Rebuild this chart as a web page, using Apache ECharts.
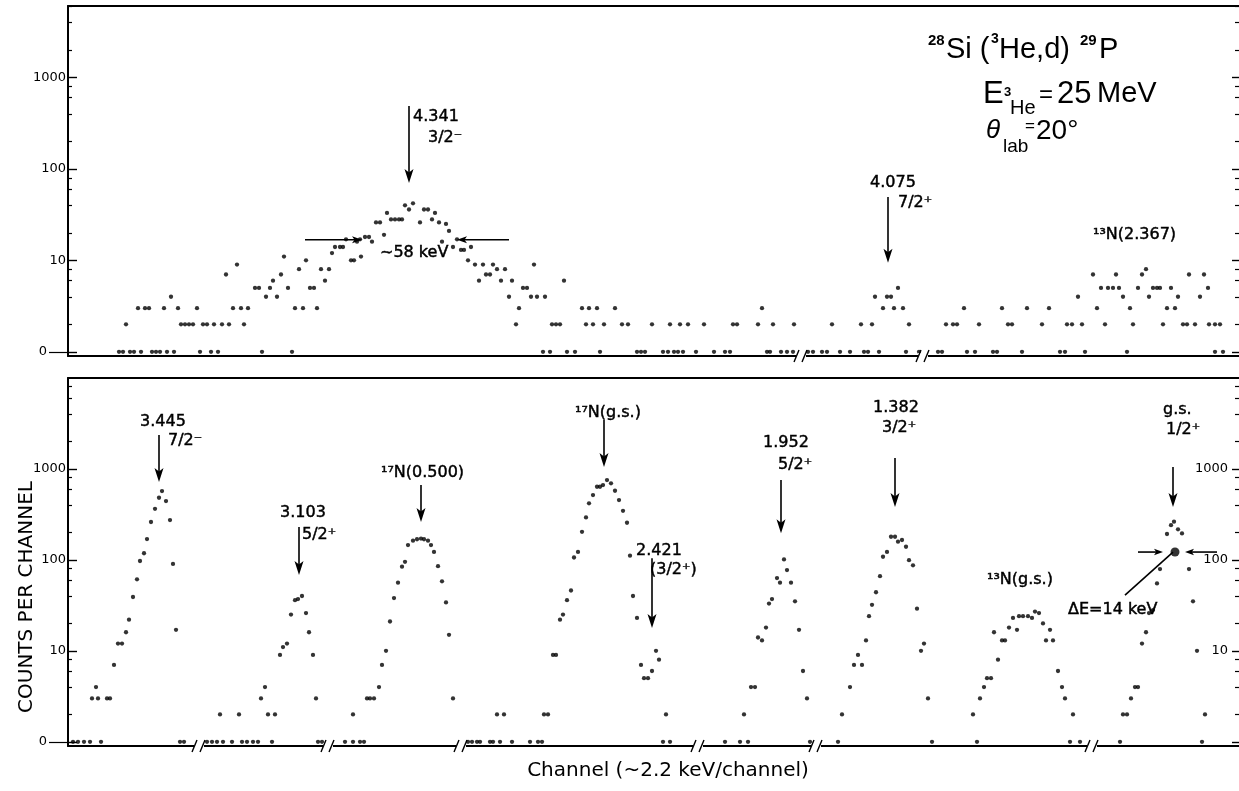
<!DOCTYPE html>
<html><head><meta charset="utf-8">
<script src="https://cdn.jsdelivr.net/npm/echarts@6/dist/echarts.min.js"></script>
<style>html,body{margin:0;padding:0;background:#fff}#c{width:1239px;height:791px}</style>
</head><body><div id="c"></div>
<script>
// [channel position, counts] (0 counts drawn on the "0" line)
const topSpectrum = [[119,0],[123,0],[126,2],[130,0],[134,0],[138,3],[141,0],[145,3],[149,3],[152,0],[156,0],[160,0],[164,3],[167,0],[171,4],[174,0],[178,3],[181,2],[185,2],[189,2],[193,2],[197,3],[200,0],[203,2],[207,2],[211,0],[214,2],[218,0],[222,2],[226,7],[229,2],[233,3],[237,9],[241,3],[244,2],[248,3],[255,5],[259,5],[262,0],[266,4],[270,5],[273,6],[277,4],[281,7],[284,11],[288,5],[292,0],[295,3],[299,8],[303,3],[306,10],[310,5],[314,5],[317,3],[321,8],[325,6],[329,8],[332,12],[335,14],[340,14],[343,14],[346,17],[351,10],[354,10],[357,16],[360,17],[361,11],[365,18],[369,18],[372,16],[376,26],[380,26],[384,19],[387,33],[391,28],[395,28],[399,28],[402,28],[405,40],[409,36],[413,42],[420,26],[424,36],[428,36],[432,28],[435,33],[439,26],[442,16],[446,25],[449,21],[453,14],[457,17],[461,13],[464,13],[468,10],[471,14],[475,9],[479,6],[483,9],[486,7],[490,7],[493,9],[497,8],[501,6],[505,8],[509,4],[512,6],[516,2],[519,3],[523,5],[527,5],[531,4],[534,9],[537,4],[543,0],[545,4],[550,0],[552,2],[556,2],[560,2],[564,6],[567,0],[575,0],[582,3],[586,2],[589,3],[593,2],[597,3],[600,0],[604,2],[615,3],[622,2],[628,2],[637,0],[641,0],[645,0],[652,2],[663,0],[668,0],[670,2],[674,0],[678,0],[680,2],[683,0],[688,2],[696,0],[704,2],[714,0],[725,0],[730,0],[733,2],[737,2],[758,2],[762,3],[767,0],[770,0],[773,2],[781,0],[787,0],[793,0],[794,2],[808,0],[813,0],[822,0],[827,0],[832,2],[840,0],[850,0],[861,2],[864,0],[868,0],[872,2],[875,4],[879,0],[883,3],[887,4],[891,4],[894,3],[898,5],[903,3],[906,0],[909,2],[919,0],[938,0],[942,0],[946,2],[953,2],[957,2],[964,3],[967,0],[975,0],[979,2],[993,0],[997,0],[1002,3],[1008,2],[1012,2],[1022,0],[1027,3],[1042,2],[1049,3],[1060,0],[1065,0],[1067,2],[1072,2],[1078,4],[1082,2],[1085,0],[1093,7],[1097,3],[1101,5],[1105,2],[1108,5],[1113,5],[1116,7],[1119,5],[1123,4],[1127,0],[1130,3],[1133,2],[1138,5],[1142,7],[1146,8],[1149,4],[1153,5],[1157,5],[1160,5],[1163,2],[1167,3],[1171,5],[1175,3],[1178,4],[1183,2],[1187,2],[1189,7],[1195,2],[1200,4],[1204,7],[1208,5],[1209,2],[1215,2],[1215,0],[1220,2],[1223,0]];
const bottomSpectrum = [[73,0],[78,0],[84,0],[90,0],[92,3],[96,4],[98,3],[101,0],[107,3],[110,3],[114,7],[118,12],[122,12],[126,16],[129,22],[133,39],[137,61],[140,97],[144,118],[147,169],[151,260],[155,363],[159,480],[162,569],[166,442],[170,273],[173,90],[176,17],[180,0],[184,0],[207,0],[212,0],[217,0],[220,2],[223,0],[232,0],[239,2],[242,0],[247,0],[253,0],[258,0],[261,3],[265,4],[268,2],[272,0],[275,2],[280,9],[283,11],[287,12],[291,25],[295,36],[298,37],[302,40],[306,26],[309,16],[313,9],[316,3],[318,0],[322,0],[345,0],[353,2],[353,0],[360,0],[364,0],[367,3],[370,3],[374,3],[379,4],[382,7],[386,10],[390,21],[394,38],[398,56],[402,84],[405,95],[408,145],[413,162],[417,168],[421,171],[424,168],[428,162],[431,145],[434,122],[438,85],[442,58],[446,34],[449,15],[453,3],[468,0],[472,0],[477,0],[480,0],[490,0],[493,0],[497,2],[500,0],[504,2],[512,0],[530,0],[538,0],[542,0],[544,2],[548,2],[553,9],[556,9],[560,22],[563,25],[567,36],[571,46],[574,106],[578,122],[582,203],[586,292],[589,417],[593,514],[597,634],[600,634],[603,662],[607,751],[611,692],[615,573],[619,453],[623,345],[627,255],[630,111],[633,40],[637,23],[641,7],[644,5],[648,5],[652,6],[656,10],[659,8],[663,0],[666,2],[670,0],[725,0],[740,0],[744,2],[748,0],[751,4],[755,4],[758,14],[762,13],[766,18],[769,33],[772,37],[777,63],[780,56],[784,101],[787,77],[791,56],[795,35],[799,17],[803,6],[807,3],[810,0],[838,0],[842,2],[850,4],[854,7],[858,9],[862,7],[866,13],[869,24],[872,32],[876,44],[880,66],[883,108],[887,122],[891,179],[895,179],[898,158],[902,165],[906,139],[909,99],[913,87],[917,29],[921,10],[924,12],[928,3],[932,0],[973,2],[977,0],[980,3],[984,4],[987,5],[991,5],[994,16],[998,8],[1002,13],[1005,13],[1009,18],[1013,23],[1017,17],[1019,24],[1023,24],[1028,24],[1032,23],[1035,27],[1039,26],[1043,20],[1046,13],[1050,17],[1053,13],[1058,6],[1062,4],[1065,3],[1070,0],[1073,2],[1080,0],[1120,0],[1123,2],[1127,2],[1131,3],[1135,4],[1138,4],[1142,12],[1146,16],[1149,26],[1153,28],[1157,55],[1160,79],[1167,192],[1171,240],[1174,262],[1178,216],[1182,195],[1189,79],[1193,35],[1197,10],[1202,0],[1205,2]];

// axis ticks (log scale, "0" shown on the 1 line)
const majorTicks = [1, 10, 100, 1000];
const majorLabels = [10, 100, 1000];
const minorTicks = [2,4,6,8,20,40,60,80,200,400,600,800,2000,4000,6000,8000];
const topMax = 6040, bottomMax = 9930, axisMin = 0.9;

// axis breaks (channel positions)
const topBreaks = [801, 923];
const bottomBreaks = [199, 328, 461, 698, 816, 1092];

// peak arrows [channel, from counts, to counts]
const topPeakArrows = [[409,488,70],[888,49.4,9.4]];
const bottomPeakArrows = [[159,2345,714],[299,229,68],[421,662,260],[604,3430,1045],[652,104,17.8],[781,752,196],[895,1312,380],[1173,1045,380]];
// width arrows [from channel, to channel, counts]
const topWidthArrows = [[305,362,16.8],[509,457,16.8]];
const bottomWidthArrows = [[1138,1163,121.6],[1217,1185,121.6]];
const bottomWidthPoint = [[1175,121.6]];
const bottomLeader = [[1173,121.6,1125,40.9]];

// labels [channel, counts, text]
const topLabels = [[413,370,'4.341'],[428,218,'3/2⁻'],[870,70.3,'4.075'],[898,42.5,'7/2⁺'],[1093,19,'¹³N(2.367)'],[380,12.1,'~58 keV']];
const bottomLabels = [[140,3260,'3.445'],[168,2015,'7/2⁻'],[280,326,'3.103'],[302,187,'5/2⁺'],[381,897,'¹⁷N(0.500)'],[575,4093,'¹⁷N(g.s.)'],[636,125,'2.421'],[650,77,'(3/2⁺)'],[763,1919,'1.952'],[778,1099,'5/2⁺'],[873,4645,'1.382'],[882,2800,'3/2⁺'],[987,59.8,'¹³N(g.s.)'],[1163,4420,'g.s.'],[1166,2661,'1/2⁺'],[1068,28,'ΔE=14 keV']];

const FONT = '"DejaVu Sans", sans-serif';
const black = '#000';

function toPlot(list){ return list.map(d => [d[0], d[1] === 0 ? 1 : d[1]]); }

function yAxes(gridIndex, max, rightLabels){
  const base = {gridIndex, type:'log', min:axisMin, max, splitLine:{show:false}, axisLine:{show:false}, axisLabel:{show:false}, axisTick:{show:false}};
  return [
    Object.assign({}, base, {position:'left',
      axisLine:{show:true, lineStyle:{color:black, width:2}},
      axisTick:{show:true, inside:true, length:9, lineStyle:{color:black, width:1.4}, customValues:majorTicks},
      axisLabel:{show:true, customValues:majorLabels, margin:2, color:black, fontFamily:FONT, fontSize:13, formatter:v=>String(Math.round(v))}}),
    Object.assign({}, base, {position:'left',
      axisTick:{show:true, inside:true, length:4, lineStyle:{color:black, width:1.2}, customValues:minorTicks}}),
    Object.assign({}, base, {position:'left',
      axisTick:{show:true, inside:false, length:19, lineStyle:{color:black, width:1.2}, customValues:[1]},
      axisLabel:{show:true, customValues:[1], margin:21, color:black, fontFamily:FONT, fontSize:13, formatter:()=> '0'}}),
    Object.assign({}, base, {position:'right',
      axisTick:{show:true, inside:true, length:7, lineStyle:{color:black, width:1.4}, customValues:majorTicks},
      axisLabel:{show:rightLabels, inside:true, customValues:majorLabels, margin:11, color:black, fontFamily:FONT, fontSize:13, formatter:v=>String(Math.round(v))}}),
    Object.assign({}, base, {position:'right',
      axisTick:{show:true, inside:true, length:4, lineStyle:{color:black, width:1.2}, customValues:minorTicks}})
  ];
}

function xAxis(gridIndex, position){
  return {gridIndex, type:'value', position, min:68, max:1239, splitLine:{show:false},
    axisLine:{show:true, onZero:false, lineStyle:{color:black, width:2}}, axisTick:{show:false}, axisLabel:{show:false}};
}

function arrowRender(headLen, headHalf, withHead){
  return function(params, api){
    const a = api.coord([api.value(0), api.value(1)]);
    const b = api.coord([api.value(2), api.value(3)]);
    const dx = b[0]-a[0], dy = b[1]-a[1], L = Math.hypot(dx, dy) || 1;
    const ux = dx/L, uy = dy/L, px = -uy, py = ux;
    const children = [];
    const end = withHead ? [b[0]-ux*headLen*0.6, b[1]-uy*headLen*0.6] : b;
    children.push({type:'line', shape:{x1:a[0], y1:a[1], x2:end[0], y2:end[1]}, style:{stroke:black, lineWidth:1.6}});
    if (withHead){
      const bx = b[0]-ux*headLen, by = b[1]-uy*headLen;
      children.push({type:'polygon', shape:{points:[[b[0],b[1]],[bx+px*headHalf, by+py*headHalf],[b[0]-ux*headLen*0.75, b[1]-uy*headLen*0.75],[bx-px*headHalf, by-py*headHalf]]}, style:{fill:black}});
    }
    return {type:'group', children};
  };
}

function labelRender(list){
  return function(params, api){
    const p = api.coord([api.value(0), api.value(1)]);
    return {type:'text', x:p[0], y:p[1], style:{text:list[params.dataIndex][2], fill:black, stroke:black, lineWidth:0.45, font:'16px '+FONT, align:'left', verticalAlign:'middle', textAlign:'left', textVerticalAlign:'middle'}};
  };
}

function breakRender(params, api){
  const x = api.coord([api.value(0), api.value(1)])[0];
  const cs = params.coordSys;
  const y = cs.y + cs.height;
  return {type:'group', children:[
    {type:'rect', shape:{x:x-5, y:y-3, width:10, height:6}, style:{fill:'#fff'}},
    {type:'line', shape:{x1:x-7, y1:y+6, x2:x-2, y2:y-6}, style:{stroke:black, lineWidth:1.4}},
    {type:'line', shape:{x1:x+1, y1:y+6, x2:x+6, y2:y-6}, style:{stroke:black, lineWidth:1.4}}
  ]};
}

function txt(x, y, text, font, align){
  return {type:'text', x, y, silent:true, style:{text, font, fill:black, align:align||'left', verticalAlign:'middle', textAlign:align||'left', textVerticalAlign:'middle'}};
}

const LIB = '"Liberation Sans", Arial, sans-serif';
const chart = echarts.init(document.getElementById('c'), null, {renderer:'canvas'});
chart.setOption({
  animation:false,
  backgroundColor:'#fff',
  grid:[
    {left:68, top:6, width:1171, height:350, outerBoundsMode:'none', containLabel:false},
    {left:68, top:378, width:1171, height:368, outerBoundsMode:'none', containLabel:false}
  ],
  xAxis:[xAxis(0,'bottom'), xAxis(0,'top'), xAxis(1,'bottom'), xAxis(1,'top')],
  yAxis:[].concat(yAxes(0, topMax, false), yAxes(1, bottomMax, true)),
  series:[
    {type:'scatter', xAxisIndex:0, yAxisIndex:0, data:toPlot(topSpectrum), symbol:'circle', symbolSize:4.3, itemStyle:{color:black}, silent:true},
    {type:'scatter', xAxisIndex:2, yAxisIndex:5, data:toPlot(bottomSpectrum), symbol:'circle', symbolSize:4.3, itemStyle:{color:black}, silent:true},
    {type:'scatter', xAxisIndex:2, yAxisIndex:5, data:bottomWidthPoint, symbol:'circle', symbolSize:9, itemStyle:{color:black}, silent:true},
    {type:'custom', xAxisIndex:0, yAxisIndex:0, clip:false, silent:true, renderItem:arrowRender(14,4.5,true), encode:{x:[0,2], y:[1,3]},
      data:topPeakArrows.map(d=>[d[0],d[1],d[0],d[2]])},
    {type:'custom', xAxisIndex:0, yAxisIndex:0, clip:false, silent:true, renderItem:arrowRender(10,3.5,true), encode:{x:[0,2], y:[1,3]},
      data:topWidthArrows.map(d=>[d[0],d[2],d[1],d[2]])},
    {type:'custom', xAxisIndex:2, yAxisIndex:5, clip:false, silent:true, renderItem:arrowRender(14,4.5,true), encode:{x:[0,2], y:[1,3]},
      data:bottomPeakArrows.map(d=>[d[0],d[1],d[0],d[2]])},
    {type:'custom', xAxisIndex:2, yAxisIndex:5, clip:false, silent:true, renderItem:arrowRender(9,3.2,true), encode:{x:[0,2], y:[1,3]},
      data:bottomWidthArrows.map(d=>[d[0],d[2],d[1],d[2]])},
    {type:'custom', xAxisIndex:2, yAxisIndex:5, clip:false, silent:true, renderItem:arrowRender(0,0,false), encode:{x:[0,2], y:[1,3]},
      data:bottomLeader},
    {type:'custom', xAxisIndex:0, yAxisIndex:0, clip:false, silent:true, renderItem:labelRender(topLabels), encode:{x:0, y:1},
      data:topLabels.map(d=>[d[0],d[1]])},
    {type:'custom', xAxisIndex:2, yAxisIndex:5, clip:false, silent:true, renderItem:labelRender(bottomLabels), encode:{x:0, y:1},
      data:bottomLabels.map(d=>[d[0],d[1]])},
    {type:'custom', xAxisIndex:0, yAxisIndex:0, clip:false, silent:true, z:5, renderItem:breakRender, encode:{x:0, y:1},
      data:topBreaks.map(x=>[x,1])},
    {type:'custom', xAxisIndex:2, yAxisIndex:5, clip:false, silent:true, z:5, renderItem:breakRender, encode:{x:0, y:1},
      data:bottomBreaks.map(x=>[x,1])}
  ],
  graphic:[
    txt(928, 41, '28', 'bold 15px '+LIB),
    txt(946, 50, 'Si (', '29px '+LIB),
    txt(991, 39, '3', 'bold 14px '+LIB),
    txt(999, 50, 'He,d)', '29px '+LIB),
    txt(1080, 41, '29', 'bold 15px '+LIB),
    txt(1099, 50, 'P', '29px '+LIB),
    txt(983, 94, 'E', '31px '+LIB),
    txt(1004, 92, '3', 'bold 13px '+LIB),
    txt(1010, 108, 'He', '20px '+LIB),
    txt(1039, 95, '=', '24px '+LIB),
    txt(1057, 94, '25', '31px '+LIB),
    txt(1097, 94, 'MeV', '29px '+LIB),
    txt(986, 131, 'θ', 'italic 26px '+LIB),
    txt(1003, 147, 'lab', '19px '+LIB),
    txt(1025, 126, '=', '17px '+LIB),
    txt(1036, 131, '20°', '28px '+LIB),
    txt(668, 771, 'Channel (~2.2 keV/channel)', '20px '+FONT, 'center'),
    {type:'text', x:27, y:597, rotation:Math.PI/2, silent:true, style:{text:'COUNTS PER CHANNEL', font:'20px '+FONT, fill:black, align:'center', verticalAlign:'middle', textAlign:'center', textVerticalAlign:'middle'}}
  ]
});
</script>
</body></html>
